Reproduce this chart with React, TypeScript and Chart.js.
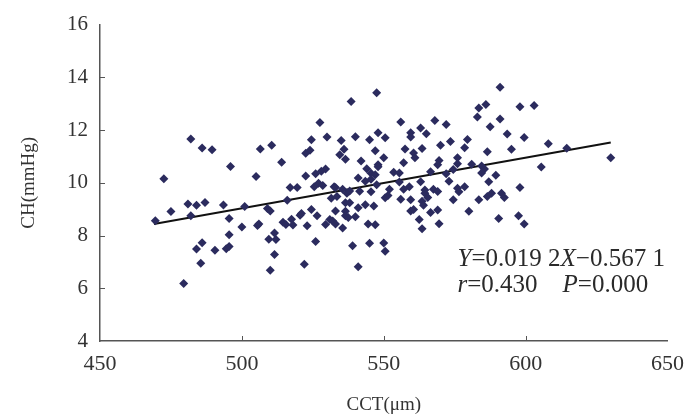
import React, { useEffect, useRef } from 'react';
import { Chart, registerables } from 'chart.js';

Chart.register(...registerables);

// CCT (µm) values of each eye
const cctValues: number[] = [
  482, 486, 489.5, 472.5, 496, 505, 506.5, 510.5, 514, 517, 519.5,
  527.5, 538.5, 547.5, 556, 568, 572, 563, 559.5, 565, 559.5, 548, 550.5, 540, 530, 524.5, 535, 545,
  570, 573.5, 536, 522.5, 524, 547, 557.5, 563.5, 534.5, 536.5, 550, 560.5, 561, 569.5, 569, 542,
  557, 548, 544, 545.5, 547, 548, 529.5, 528, 526, 522.5, 553.5, 555.5, 541, 566.5, 572, 574.5,
  527, 532.5, 555.5, 563, 573, 559, 543.5, 545.5, 525.5, 528.5,
  591, 583.5, 586, 598, 603, 583, 591, 587.5, 593.5, 599.5, 579.5, 578.5, 608, 614.5, 586.5, 595,
  576, 576, 581, 584.5, 585.5, 584.5, 589.5, 605.5, 630, 587, 578.5, 598,
  469.5, 475, 481, 484, 487, 493.5, 482, 501, 495.5, 500, 505.5, 506, 509, 510, 516, 514.5, 515.5,
  517.5, 518, 520.5, 495.5, 486, 484, 490.5, 494.5, 495.5, 509.5, 512, 511.5, 511.5, 510, 485.5, 479.5,
  523, 524.5, 526.5, 521, 526, 522, 529.5, 531, 532, 533, 533, 535.5, 536.5, 536.5, 537.5, 540, 541,
  543.5, 546.5, 544.5, 547, 539, 545, 550, 550.5, 541, 533, 535.5, 537, 538, 541.5, 545.5, 547.5,
  552, 557, 564.5, 564.5, 567.5, 569, 574.5, 531.5, 533.5, 536.5, 538, 550.5, 551.5, 556, 559.5,
  563.5, 564, 565.5, 559.5, 560.5, 566.5, 569, 562.5, 563.5, 569.5,
  576, 576.5, 583.5, 586.5, 588, 591.5, 592.5, 580, 590.5, 597.5, 599.5,
];

// CH (mmHg) values of each eye
const chValues: number[] = [
  11.66, 11.32, 11.25, 10.15, 10.62, 10.24, 11.28, 11.42, 10.78, 9.82, 9.82,
  12.29, 13.08, 13.42, 12.31, 12.36, 12.21, 12.08, 11.9, 11.86, 11.74, 11.9, 11.71, 11.75, 11.74, 11.63, 11.6, 11.63,
  11.42, 11.57, 11.27, 11.12, 11.23, 11.22, 11.28, 11.3, 11.06, 10.89, 10.95, 11.13, 10.95, 10.85, 10.68, 10.83,
  10.76, 10.68, 10.53, 10.36, 10.31, 10.61, 10.52, 10.44, 10.34, 10.26, 10.4, 10.37, 10.18, 10.42, 10.34, 10.5,
  9.98, 9.85, 10.03, 10.04, 10.06, 9.85, 10.06, 10.13, 9.85, 9.9,
  13.62, 12.84, 12.97, 12.88, 12.93, 12.5, 12.42, 12.13, 11.85, 11.72, 11.64, 11.33, 11.48, 11.31, 11.18, 11.27,
  10.95, 10.72, 10.7, 10.64, 10.52, 10.37, 10.29, 10.6, 10.95, 10.04, 9.85, 9.82,
  8.56, 8.91, 9.2, 9.15, 9.25, 9.16, 8.75, 9.1, 8.65, 8.32, 8.38, 8.44, 9.03, 8.93, 9.34, 8.5, 8.42,
  8.62, 8.4, 8.77, 8.03, 7.73, 7.49, 7.44, 7.5, 7.58, 7.86, 7.85, 8.1, 7.28, 6.68, 6.95, 6.18,
  8.37, 8.99, 8.75, 8.84, 7.77, 6.91, 8.42, 8.61, 8.55, 8.44, 8.93, 8.29, 8.92, 8.75, 8.68, 8.71, 9.05,
  9.17, 9.12, 8.44, 8.41, 7.61, 7.71, 7.72, 7.4, 6.82, 9.82, 9.76, 9.6, 9.69, 9.68, 9.66, 9.93,
  9.76, 9.76, 9.73, 9.6, 9.76, 9.67, 9.36, 9.41, 9.48, 9.24, 9.24, 9.43, 9.52, 9.38, 9.36,
  9.3, 9.15, 9.44, 8.93, 8.99, 8.87, 8.97, 8.61, 8.26, 8.45,
  9.79, 9.66, 9.36, 9.48, 9.6, 9.6, 9.44, 8.92, 8.65, 8.75, 8.44,
];

// Regression line Y = 0.0192X - 0.5671 over the observed CCT range
const fitSlope = 0.0192;
const fitIntercept = -0.5671;
const fitRange: number[] = [469, 630];

const xTickValues: number[] = [450, 500, 550, 600, 650];
const yTickValues: number[] = [4, 6, 8, 10, 12, 14, 16];

const eqLine1 = [
  { t: 'Y', i: true },
  { t: '=0.019 2', i: false },
  { t: 'X', i: true },
  { t: '\u22120.567 1', i: false },
];
const eqLine2 = [
  { t: 'r', i: true },
  { t: '=0.430    ', i: false },
  { t: 'P', i: true },
  { t: '=0.000', i: false },
];
const eqAnchor = { x: 576, y1: 7.08, y2: 6.12 };

const SERIF = "'Liberation Serif', 'Times New Roman', serif";

export default function App() {
  const ref = useRef<HTMLCanvasElement | null>(null);

  useEffect(() => {
    if (!ref.current) return;
    const points = cctValues.map((x, k) => ({ x, y: chValues[k] }));
    const fitPoints = fitRange.map((x) => ({ x, y: fitSlope * x + fitIntercept }));

    const overlay = {
      id: 'overlay',
      afterDraw(chart: any) {
        const { ctx } = chart;
        const xs = chart.scales.x;
        const ys = chart.scales.y;
        ctx.save();
        ctx.strokeStyle = '#555';
        ctx.lineWidth = 1;
        xTickValues.slice(1, -1).forEach((v) => {
          const px = Math.round(xs.getPixelForValue(v)) + 0.5;
          ctx.beginPath();
          ctx.moveTo(px, ys.bottom);
          ctx.lineTo(px, ys.bottom - 5);
          ctx.stroke();
        });
        yTickValues.slice(1, -1).forEach((v) => {
          const py = Math.round(ys.getPixelForValue(v)) + 0.5;
          ctx.beginPath();
          ctx.moveTo(xs.left, py);
          ctx.lineTo(xs.left + 5, py);
          ctx.stroke();
        });
        ctx.fillStyle = '#2a2a2a';
        ctx.textBaseline = 'middle';
        ctx.textAlign = 'left';
        const drawSegs = (segs: { t: string; i: boolean }[], x0: number, y0: number) => {
          let cx = x0;
          segs.forEach((s) => {
            ctx.font = `${s.i ? 'italic ' : ''}25px ${SERIF}`;
            ctx.fillText(s.t, cx, y0);
            cx += ctx.measureText(s.t).width;
          });
        };
        const ax = xs.getPixelForValue(eqAnchor.x);
        drawSegs(eqLine1, ax, ys.getPixelForValue(eqAnchor.y1));
        drawSegs(eqLine2, ax, ys.getPixelForValue(eqAnchor.y2));
        ctx.restore();
      },
    };

    const chart = new Chart(ref.current, {
      type: 'scatter',
      data: {
        datasets: [
          {
            label: 'CH',
            data: points,
            pointStyle: 'rectRot',
            pointRadius: 4.5,
            backgroundColor: '#2b2b5e',
            borderColor: '#2b2b5e',
            borderWidth: 0,
          },
          {
            label: 'fit',
            data: fitPoints,
            showLine: true,
            borderColor: '#111',
            borderWidth: 2,
            pointRadius: 0,
            fill: false,
          } as any,
        ],
      },
      options: {
        animation: false,
        responsive: false,
        layout: { padding: { top: 14, right: 24, left: 0, bottom: 0 } },
        plugins: { legend: { display: false }, tooltip: { enabled: false } },
        scales: {
          x: {
            type: 'linear',
            min: 450,
            max: 650,
            afterFit: (s: any) => { s.height = 77; },
            afterBuildTicks: (s: any) => { s.ticks = xTickValues.map((v) => ({ value: v })); },
            ticks: { color: '#333', font: { family: SERIF, size: 22 }, padding: 10 },
            grid: { display: false, drawTicks: false },
            border: { display: true, color: '#555', width: 1.5 },
            title: {
              display: true,
              text: 'CCT(\u03bcm)',
              color: '#333',
              font: { family: SERIF, size: 19 },
              padding: { top: 0, bottom: 2 },
            },
          },
          y: {
            type: 'linear',
            min: 4,
            max: 16,
            afterFit: (s: any) => { s.width = 100; },
            afterBuildTicks: (s: any) => { s.ticks = yTickValues.map((v) => ({ value: v })); },
            ticks: { color: '#333', font: { family: SERIF, size: 21 }, padding: 12 },
            grid: { display: false, drawTicks: false },
            border: { display: true, color: '#555', width: 1.5 },
            title: {
              display: true,
              text: 'CH(mmHg)',
              color: '#333',
              font: { family: SERIF, size: 19 },
              padding: { top: 18, bottom: 0 },
            },
          },
        },
      },
      plugins: [overlay],
    } as any);
    return () => chart.destroy();
  }, []);

  return (
    <div style={{ position: 'absolute', left: 0, top: 0, width: 694, height: 418, background: '#fff' }}>
      <canvas ref={ref} width={694} height={418} style={{ width: 694, height: 418 }} />
    </div>
  );
}
